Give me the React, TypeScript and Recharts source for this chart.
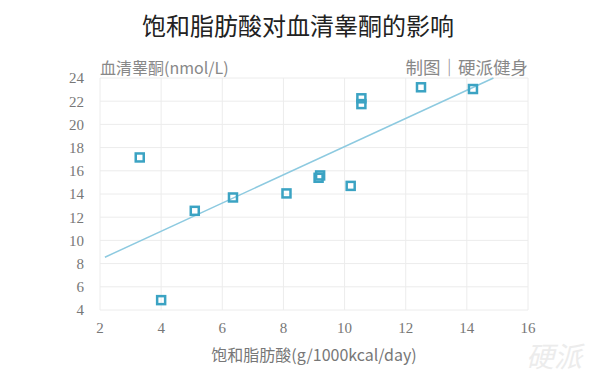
import { ScatterChart, Scatter, XAxis, YAxis, CartesianGrid } from "recharts";

const fatIntake = [3.3, 4.0, 5.1, 6.35, 8.1, 9.15, 9.2, 10.2, 10.55, 10.55, 12.5, 14.2];
const testosterone = [17.15, 4.85, 12.55, 13.7, 14.05, 15.4, 15.6, 14.7, 22.25, 21.75, 23.2, 23.05];
const trendX = [2.16, 14.87];
const trendY = [8.55, 24.0];
const xTicks = [2, 4, 6, 8, 10, 12, 14, 16];
const yTicks = [4, 6, 8, 10, 12, 14, 16, 18, 20, 22, 24];

const points = fatIntake.map((x, i) => ({ x, y: testosterone[i] }));
const trend = trendX.map((x, i) => ({ x, y: trendY[i] }));

const SquareMarker = (props: any) => {
  const { cx, cy } = props;
  if (cx == null || cy == null) return <g />;
  return (
    <rect x={cx - 4} y={cy - 4} width={8} height={8} fill="none" stroke="#3ba3c3" strokeWidth={2.5} />
  );
};

const tickStyle = { fill: "#777", fontSize: 15, fontFamily: "'Liberation Serif', serif" };
const sans = "'Noto Sans CJK SC', 'Noto Sans', sans-serif";

export default function App() {
  return (
    <div style={{ position: "absolute", left: 0, top: 0, width: 600, height: 374, background: "#fff", fontFamily: sans }}>
      <div style={{ position: "absolute", left: 0, width: 596, top: 8, textAlign: "center", fontSize: 24, lineHeight: "34px", color: "#222" }}>
        饱和脂肪酸对血清睾酮的影响
      </div>
      <div style={{ position: "absolute", left: 100, top: 56, fontSize: 16, lineHeight: "22px", color: "#888" }}>
        血清睾酮(nmol/L)
      </div>
      <div style={{ position: "absolute", right: 72, top: 55, fontSize: 17.5, lineHeight: "24px", color: "#888" }}>
        制图｜硬派健身
      </div>
      <ScatterChart width={600} height={374} margin={{ top: 78, right: 72, bottom: 34, left: 70 }}>
        <CartesianGrid stroke="#ececec" strokeWidth={1} />
        <XAxis
          type="number"
          dataKey="x"
          domain={[2, 16]}
          ticks={xTicks}
          axisLine={false}
          tickLine={false}
          tickSize={0}
          tickMargin={12}
          tick={tickStyle}
          interval={0}
        />
        <YAxis
          type="number"
          dataKey="y"
          domain={[4, 24]}
          ticks={yTicks}
          width={30}
          axisLine={false}
          tickLine={false}
          tickSize={0}
          tickMargin={16}
          tick={tickStyle}
          interval={0}
        />
        <Scatter
          data={trend}
          line={{ stroke: "#8dcae0", strokeWidth: 1.5 }}
          shape={() => <g />}
          isAnimationActive={false}
        />
        <Scatter data={points} shape={<SquareMarker />} isAnimationActive={false} />
      </ScatterChart>
      <div style={{ position: "absolute", left: 0, width: 628, top: 342, textAlign: "center", fontSize: 16, lineHeight: "24px", color: "#777" }}>
        饱和脂肪酸(g/1000kcal/day)
      </div>
      <div style={{ position: "absolute", left: 526, width: 66, top: 340, fontSize: 28, lineHeight: "30px", fontStyle: "italic", color: "#ececec", whiteSpace: "nowrap" }}>
        硬派
      </div>
    </div>
  );
}
